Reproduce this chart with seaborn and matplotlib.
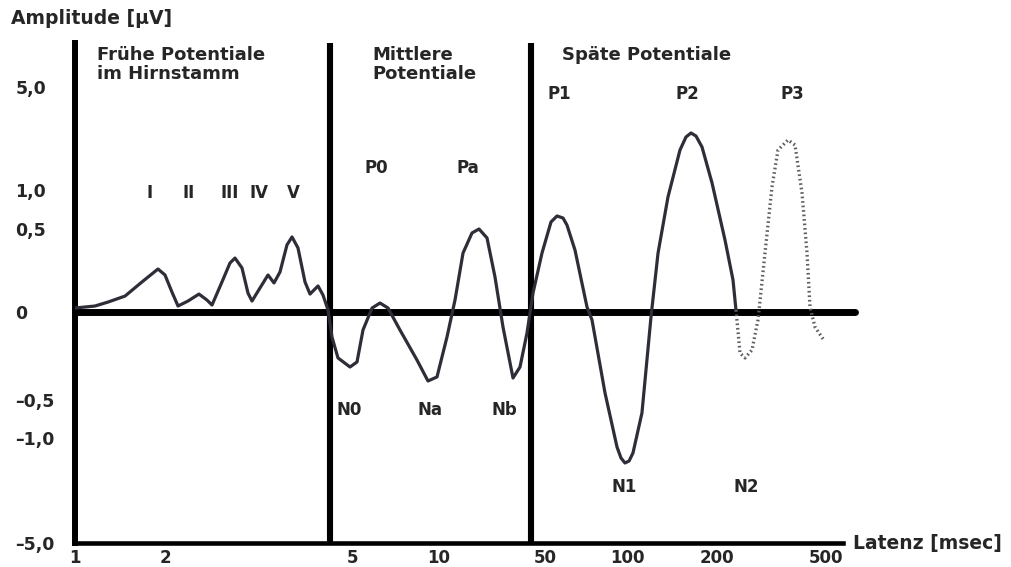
import numpy as np
import pandas as pd
import matplotlib
matplotlib.use("Agg")
import matplotlib.pyplot as plt
import seaborn as sns

sns.set_style("white")
plt.rcParams['font.family'] = ['DejaVu Sans']

# ---------------- data (latency in ms, amplitude in µV) ----------------
solid_ms = [1.00, 1.166, 1.29, 1.47, 1.675, 1.895, 2.00, 2.069, 2.131, 2.237,
            2.36, 2.454, 2.515, 2.64, 2.745, 2.813, 2.911, 2.997, 3.056, 3.178,
            3.304, 3.402, 3.503, 3.624, 3.714, 3.824, 3.957, 4.055, 4.216, 4.32,
            4.427, 4.513, 4.647, 4.928, 5.164, 5.42, 5.83, 6.216, 6.63, 7.30,
            8.375, 9.15, 9.84, 11.29, 12.75, 14.40, 16.50, 18.36, 20.73, 23.40,
            26.42, 30.76, 34.21, 38.04, 41.67, 47.77, 52.6, 55.34, 58.22, 60.2,
            64.43, 71.31, 74.39, 83.04, 91.9, 95.06, 98.3, 101.6, 104.7, 112.2,
            120.3, 127.0, 137.1, 150.4, 157.5, 163.7, 170.1, 178.2, 192.5, 213.9,
            228.8, 234.6]
solid_uv = [0.024, 0.036, 0.060, 0.096, 0.181, 0.259, 0.223, 0.120, 0.036, 0.066,
            0.108, 0.072, 0.042, 0.181, 0.295, 0.325, 0.265, 0.114, 0.066, 0.145,
            0.223, 0.175, 0.241, 0.404, 0.452, 0.386, 0.181, 0.108, 0.157, 0.102,
            0.012, -0.142, -0.261, -0.3125, -0.284, -0.102, 0.024, 0.054, 0.024, -0.102,
            -0.273, -0.392, -0.369, -0.142, 0.072, 0.355, 0.476, 0.500, 0.446, 0.211,
            -0.085, -0.375, -0.3125, -0.119, 0.114, 0.355, 0.590, 0.667, 0.641, 0.551,
            0.373, 0.030, -0.045, -0.460, -1.343, -1.762, -1.952, -1.876, -1.571, -0.671,
            -0.028, 0.355, 0.910, 2.553, 3.058, 3.214, 3.097, 2.670, 1.272, 0.434,
            0.193, 0.012]

dotted_ms = [234.6, 242.7, 253.1, 268.4, 282.3, 299.4, 317.5, 334.0, 363.3,
             385.3, 408.7, 426.2, 437.1, 455.8, 487.6]
dotted_uv = [0.012, -0.233, -0.261, -0.216, -0.045, 0.355, 1.117, 2.553, 2.942,
             2.748, 0.962, 0.355, 0.030, -0.085, -0.153]

x_ticks = [1, 2, 5, 10, 50, 100, 200, 500]
x_ticklabels = ["1", "2", "5", "10", "50", "100", "200", "500"]
y_ticks = [5, 1, 0.5, 0, -0.5, -1, -5]
y_ticklabels = ["5,0", "1,0", "0,5", "0", "–0,5", "–1,0", "–5,0"]

region_titles = ["Frühe Potentiale\nim Hirnstamm", "Mittlere\nPotentiale", "Späte Potentiale"]
region_title_ms = [1.185, 5.83, 57.7]
region_bounds_ms = [4.47, 40.7]

peak_names = ["I", "II", "III", "IV", "V", "P0", "Pa", "P1", "P2", "P3",
              "N0", "Na", "Nb", "N1", "N2"]
peak_label_ms = [1.782, 2.248, 2.745, 3.162, 3.732, 6.02, 15.53, 56.3, 158.7, 375.7,
                 4.904, 9.30, 26.83, 97.5, 255.2]
peak_label_uv = [0.96, 0.96, 0.96, 0.96, 0.96, 1.854, 1.854, 4.728, 4.728, 4.728,
                 -0.632, -0.632, -0.632, -2.867, -2.867]

# ---------------- piecewise axis scales ----------------
x_scale_ms = [0.5, 1, 2, 5, 10, 50, 100, 200, 500, 1000]
x_scale_pos = [-15, 75, 165, 353, 439, 545, 627, 717, 826, 908.5]
y_scale_uv = [-10, -5, -1, -0.5, 0, 0.5, 1, 5, 10]
y_scale_pos = [-131.25, 0, 105, 143, 231, 314, 353, 456, 584.75]

lx = np.log10(x_scale_ms)


def x_fwd(x):
    x = np.asarray(x, dtype=float)
    return np.interp(np.log10(np.clip(x, 1e-6, None)), lx, x_scale_pos)


def x_inv(p):
    return 10 ** np.interp(np.asarray(p, dtype=float), x_scale_pos, lx)


def y_fwd(y):
    return np.interp(np.asarray(y, dtype=float), y_scale_uv, y_scale_pos)


def y_inv(p):
    return np.interp(np.asarray(p, dtype=float), y_scale_pos, y_scale_uv)


solid = pd.DataFrame({"ms": solid_ms, "uv": solid_uv})
dotted = pd.DataFrame({"ms": dotted_ms, "uv": dotted_uv})

W, H = 1012, 567
fig = plt.figure(figsize=(W / 100, H / 100), dpi=100)
ax = fig.add_axes([75 / W, 24 / H, 768 / W, 500 / H])

ink = "#262626"

sns.lineplot(data=solid, x="ms", y="uv", ax=ax, estimator=None, sort=False,
             color="#2e2e38", linewidth=2.3, zorder=4,
             solid_joinstyle="round", solid_capstyle="round")
sns.lineplot(data=dotted, x="ms", y="uv", ax=ax, estimator=None, sort=False,
             color="#5e5e66", linewidth=2.4, linestyle=(0, (0.5, 0.85)), zorder=4)

ax.set_xscale("function", functions=(x_fwd, x_inv))
ax.set_yscale("function", functions=(y_fwd, y_inv))
ax.set_xlim(1, float(x_inv(843)))
ax.set_ylim(-5, float(y_inv(500)))

# zero line and region dividers
ax.axhline(0, xmin=0, xmax=(855 - 75) / 768, color="black", linewidth=5, clip_on=False, zorder=3)
for b in region_bounds_ms:
    ax.axvline(b, color="black", linewidth=4.4, zorder=3)

for s in ["top", "right"]:
    ax.spines[s].set_visible(False)
ax.spines["left"].set_linewidth(4.3)
ax.spines["bottom"].set_linewidth(3.3)
ax.spines["left"].set_color("black")
ax.spines["bottom"].set_color("black")

ax.set_xticks(x_ticks)
ax.set_xticklabels(x_ticklabels, fontweight="bold", fontsize=12, color=ink)
ax.set_yticks(y_ticks)
ax.set_yticklabels(y_ticklabels, fontweight="bold", fontsize=12.5, color=ink)
ax.minorticks_off()
ax.tick_params(axis="x", direction="in", length=4.5, width=2.3, pad=4, color="black")
ax.tick_params(axis="y", direction="in", length=4.5, width=2.3, pad=43, color="black")
for lbl in ax.get_yticklabels():
    lbl.set_horizontalalignment("left")
ax.set_xlabel("")
ax.set_ylabel("")

# region titles
for t, xm in zip(region_titles, region_title_ms):
    ax.text(xm, float(y_inv(543 - 46)), t, ha="left", va="top", fontsize=13,
            fontweight="bold", color=ink, linespacing=1.05)

# peak labels
for n, xm, yv in zip(peak_names, peak_label_ms, peak_label_uv):
    ax.text(xm, yv, n, ha="center", va="center", fontsize=12,
            fontweight="bold", color=ink)

fig.text(11 / W, 1 - 19 / H, "Amplitude [µV]", ha="left", va="center",
         fontsize=13.5, fontweight="bold", color=ink)
fig.text(853 / W, 1 - 544 / H, "Latenz [msec]", ha="left", va="center",
         fontsize=13.5, fontweight="bold", color=ink)

fig.savefig("out.png", dpi=100)
